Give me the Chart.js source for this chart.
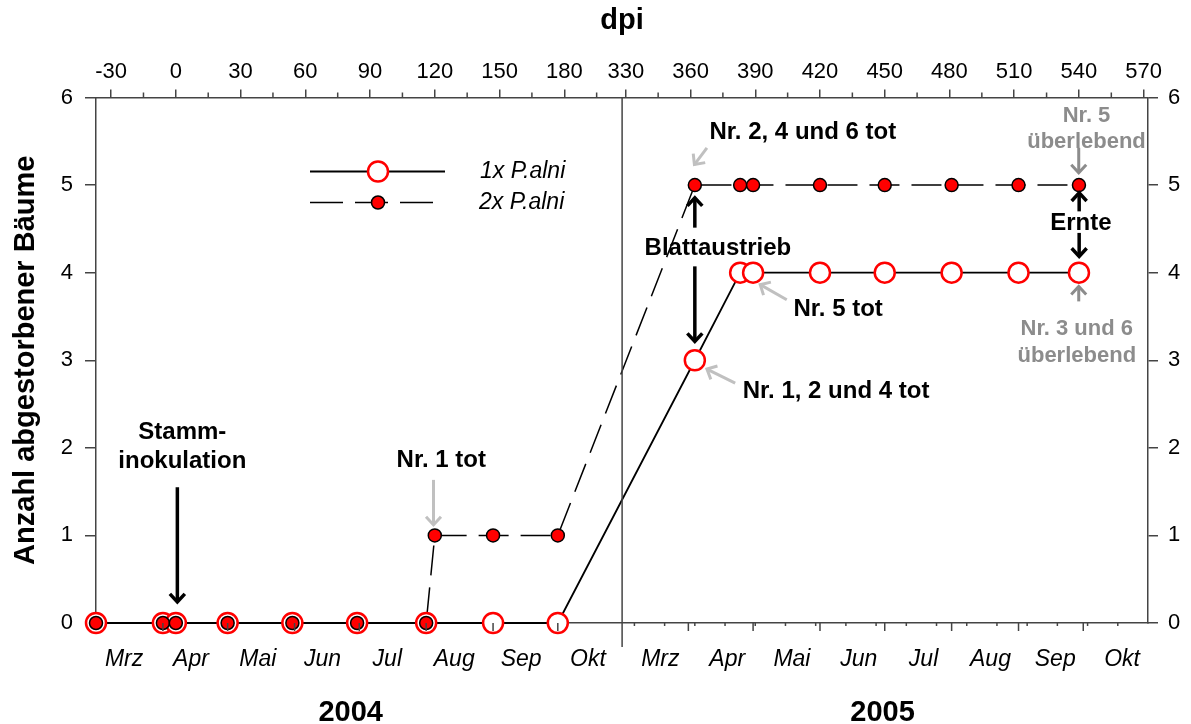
<!DOCTYPE html>
<html lang="de">
<head>
<meta charset="utf-8">
<title>Abgestorbene Bäume nach Inokulation</title>
<script src="https://cdn.jsdelivr.net/npm/chart.js"></script>
<style>
  html, body { margin: 0; padding: 0; background: #fff; }
  canvas { display: block; }
</style>
</head>
<body>
<canvas id="chart" width="1191" height="724"></canvas>
<script>
// Boniturtermine in Tagen nach Inokulation (dpi) und kumulativ abgestorbene Bäume
const dpi1x = [-37, -6, 0, 24, 54, 84, 116, 147, 177, 362, 383, 389, 420, 450, 481, 512, 540]
const dead1x = [0, 0, 0, 0, 0, 0, 0, 0, 0, 3, 4, 4, 4, 4, 4, 4, 4]

const dpi2x = [-37, -6, 0, 24, 54, 84, 116, 120, 147, 177, 362, 383, 389, 420, 450, 481, 512, 540]
const dead2x = [0, 0, 0, 0, 0, 0, 0, 1, 1, 1, 5, 5, 5, 5, 5, 5, 5, 5]

// obere Achse (dpi)
const dpiTicks = [-30, 0, 30, 60, 90, 120, 150, 180, 330, 360, 390, 420, 450, 480, 510, 540, 570]
const dpiMinorTicks = [-15, 15, 45, 75, 105, 135, 165, 195, 345, 375, 405, 435, 465, 495, 525, 555]

// untere Achse (Monate), Monatsanfänge und Beschriftung in dpi
const monthNames = ["Mrz", "Apr", "Mai", "Jun", "Jul", "Aug", "Sep", "Okt"]
const monthLabelDpi2004 = [-24, 7, 38, 68, 98, 129, 160, 191]
const monthLabelDpi2005 = [346, 377, 407, 438, 468, 499, 529, 560]
const monthStartDpi = [-6, 24, 55, 85, 116, 147, 177, 359, 389, 420, 450, 481, 512, 542]
const weekTickDpi2005 = [334, 348, 362, 376, 390, 404, 418, 432, 446, 460, 474, 488, 502, 516, 530, 544, 558]
const years = ["2004", "2005"]
const yearLabelDpi = [81, 449]

const yTicks = [0, 1, 2, 3, 4, 5, 6]

// Achsenbruch: Nov 2004 bis Feb 2005 ausgeblendet
const BREAK_AT = 206.8
const BREAK_SHIFT = 121.5
const axisX = (dpi) => (dpi > 260 ? dpi - BREAK_SHIFT : dpi)

const X_MIN = -37
const X_MAX = 450.5

const FONT = "'Liberation Sans', Arial, sans-serif"
const AXIS_COLOR = "#444"

const toPoints = (xs, ys) => xs.map((d, i) => ({ x: axisX(d), y: ys[i] }))

const annotationTexts = [
  { text: "Stamm-", at: [3, 2.18], align: "center", color: "#000", size: 24 },
  { text: "inokulation", at: [3, 1.85], align: "center", color: "#000", size: 24 },
  { text: "Nr. 1 tot", at: [123, 1.86], align: "center", color: "#000", size: 24 },
  { text: "Nr. 2, 4 und 6 tot", at: [368.8, 5.597], align: "left", color: "#000", size: 24 },
  { text: "Blattaustrieb", at: [372.7, 4.282], align: "center", color: "#000", size: 24 },
  { text: "Nr. 5 tot", at: [407.7, 3.577], align: "left", color: "#000", size: 24 },
  { text: "Nr. 1, 2 und 4 tot", at: [384.2, 2.643], align: "left", color: "#000", size: 24 },
  { text: "Ernte", at: [540.9, 4.56], align: "center", color: "#000", size: 24 },
  { text: "Nr. 5", at: [543.5, 5.786], align: "center", color: "#8c8c8c", size: 22 },
  { text: "überlebend", at: [543.5, 5.489], align: "center", color: "#8c8c8c", size: 22 },
  { text: "Nr. 3 und 6", at: [539, 3.357], align: "center", color: "#8c8c8c", size: 22 },
  { text: "überlebend", at: [539, 3.051], align: "center", color: "#8c8c8c", size: 22 },
]

const annotationArrows = [
  { from: [0.7, 1.55], to: [0.7, 0.24], color: "#000", width: 3.5 },
  { from: [362, 4.514], to: [362, 4.854], color: "#000", width: 3.5 },
  { from: [362, 4.072], to: [362, 3.215], color: "#000", width: 3.5 },
  { from: [540.1, 4.7], to: [540.1, 4.911], color: "#000", width: 3.5 },
  { from: [540.1, 4.454], to: [540.1, 4.186], color: "#000", width: 3.5 },
  { from: [119.4, 1.634], to: [119.4, 1.12], color: "#c0c0c0", width: 3 },
  { from: [367.6, 5.425], to: [361.8, 5.234], color: "#c0c0c0", width: 3 },
  { from: [404.6, 3.691], to: [392.3, 3.863], color: "#c0c0c0", width: 3 },
  { from: [380.7, 2.739], to: [367.6, 2.899], color: "#c0c0c0", width: 3 },
  { from: [539.9, 5.425], to: [539.9, 5.14], color: "#8c8c8c", width: 3 },
  { from: [539.9, 3.672], to: [539.9, 3.843], color: "#8c8c8c", width: 3 },
]

function drawArrow(ctx, x1, y1, x2, y2, color, width) {
  const ang = Math.atan2(y2 - y1, x2 - x1)
  const head = 11
  const spread = Math.PI / 4.2
  ctx.save()
  ctx.strokeStyle = color
  ctx.lineWidth = width
  ctx.lineCap = "butt"
  ctx.lineJoin = "miter"
  ctx.beginPath()
  ctx.moveTo(x1, y1)
  ctx.lineTo(x2, y2)
  ctx.stroke()
  ctx.beginPath()
  ctx.moveTo(x2 - head * Math.cos(ang - spread), y2 - head * Math.sin(ang - spread))
  ctx.lineTo(x2, y2)
  ctx.lineTo(x2 - head * Math.cos(ang + spread), y2 - head * Math.sin(ang + spread))
  ctx.stroke()
  ctx.restore()
}

// Achsenbruch, Zusatzstriche, Jahreszahlen, Legende und Beschriftungen
const decorations = {
  id: "decorations",
  afterDatasetsDraw(chart) {
    const { ctx, chartArea, scales } = chart
    const xs = scales.x
    const tick = (px, y0, len) => {
      ctx.beginPath()
      ctx.moveTo(px, y0)
      ctx.lineTo(px, y0 + len)
      ctx.stroke()
    }
    ctx.save()
    ctx.strokeStyle = AXIS_COLOR
    ctx.lineWidth = 1.5
    // Monatsstriche und Wochenpunkte an der unteren Achse
    monthStartDpi.forEach((d) => tick(xs.getPixelForValue(axisX(d)), chartArea.bottom, 8))
    weekTickDpi2005.forEach((d) => tick(xs.getPixelForValue(axisX(d)), chartArea.bottom, 3))
    // Zwischenstriche der dpi-Achse
    dpiMinorTicks.forEach((d) => tick(scales.xTop.getPixelForValue(axisX(d)), chartArea.top, -5))
    // Achsenbruch
    tick(xs.getPixelForValue(BREAK_AT), chartArea.top, chartArea.bottom - chartArea.top + 24)
    ctx.restore()
  },
  afterDraw(chart) {
    const { ctx, chartArea, scales } = chart
    const px = (d) => scales.x.getPixelForValue(axisX(d))
    const py = (v) => scales.y.getPixelForValue(v)

    ctx.save()
    // Jahreszahlen
    ctx.fillStyle = "#000"
    ctx.font = `bold 29px ${FONT}`
    ctx.textAlign = "center"
    ctx.textBaseline = "middle"
    years.forEach((y, i) => ctx.fillText(y, px(yearLabelDpi[i]), chartArea.bottom + 90))

    // Legende
    const lx = chartArea.left + 214
    const ly = chartArea.top + 74
    ctx.strokeStyle = "#000"
    ctx.lineWidth = 1.8
    ctx.beginPath()
    ctx.moveTo(lx, ly)
    ctx.lineTo(lx + 135, ly)
    ctx.stroke()
    ctx.beginPath()
    ctx.arc(lx + 68, ly, 10, 0, Math.PI * 2)
    ctx.fillStyle = "#fff"
    ctx.fill()
    ctx.strokeStyle = "#ff0000"
    ctx.lineWidth = 2.5
    ctx.stroke()

    ctx.strokeStyle = "#000"
    ctx.lineWidth = 1.5
    ctx.setLineDash([33, 12])
    ctx.beginPath()
    ctx.moveTo(lx, ly + 31)
    ctx.lineTo(lx + 135, ly + 31)
    ctx.stroke()
    ctx.setLineDash([])
    ctx.beginPath()
    ctx.arc(lx + 68, ly + 31, 6.5, 0, Math.PI * 2)
    ctx.fillStyle = "#ff0000"
    ctx.fill()
    ctx.strokeStyle = "#000"
    ctx.lineWidth = 1.5
    ctx.stroke()

    ctx.fillStyle = "#000"
    ctx.font = `italic 23px ${FONT}`
    ctx.textAlign = "left"
    ctx.fillText("1x P.alni", lx + 170, ly)
    ctx.fillText("2x P.alni", lx + 169, ly + 31)

    // Beschriftungen und Pfeile
    annotationArrows.forEach((a) =>
      drawArrow(ctx, px(a.from[0]), py(a.from[1]), px(a.to[0]), py(a.to[1]), a.color, a.width)
    )
    annotationTexts.forEach((t) => {
      ctx.font = `bold ${t.size}px ${FONT}`
      ctx.fillStyle = t.color
      ctx.textAlign = t.align
      ctx.fillText(t.text, px(t.at[0]), py(t.at[1]))
    })
    ctx.restore()
  },
}

const tickFont = { family: FONT, size: 22 }
const monthLabelDpi = monthLabelDpi2004.concat(monthLabelDpi2005)

new Chart(document.getElementById("chart"), {
  type: "line",
  data: {
    datasets: [
      {
        label: "2x P.alni (Linie)",
        data: toPoints(dpi2x, dead2x),
        borderColor: "#000",
        borderWidth: 1.5,
        borderDash: [30, 12],
        pointRadius: 0,
        tension: 0,
        order: 2,
        clip: false,
      },
      {
        label: "1x P.alni",
        data: toPoints(dpi1x, dead1x),
        borderColor: "#000",
        borderWidth: 1.8,
        pointRadius: 10,
        pointBorderWidth: 2.5,
        pointBorderColor: "#ff0000",
        pointBackgroundColor: "#fff",
        tension: 0,
        order: 1,
        clip: false,
      },
      {
        label: "2x P.alni",
        data: toPoints(dpi2x, dead2x),
        showLine: false,
        pointRadius: 6.5,
        pointBorderWidth: 1.5,
        pointBorderColor: "#000",
        pointBackgroundColor: "#ff0000",
        order: 0,
        clip: false,
      },
    ],
  },
  options: {
    responsive: false,
    animation: false,
    events: [],
    devicePixelRatio: 1,
    layout: { padding: 0 },
    plugins: {
      legend: { display: false },
      tooltip: { enabled: false },
    },
    scales: {
      x: {
        type: "linear",
        position: "bottom",
        min: X_MIN,
        max: X_MAX,
        afterBuildTicks: (s) => {
          s.ticks = monthLabelDpi.map((d) => ({ value: axisX(d) }))
        },
        ticks: {
          autoSkip: false,
          maxRotation: 0,
          color: "#000",
          font: { family: FONT, size: 23, style: "italic" },
          padding: 23,
          callback: (v, i) => monthNames[i % monthNames.length],
        },
        grid: { display: false, drawTicks: false },
        border: { display: true, color: AXIS_COLOR, width: 1.5 },
        afterFit: (s) => { s.height = 101 },
      },
      xTop: {
        type: "linear",
        position: "top",
        min: X_MIN,
        max: X_MAX,
        afterBuildTicks: (s) => {
          s.ticks = dpiTicks.map((d) => ({ value: axisX(d) }))
        },
        ticks: {
          autoSkip: false,
          maxRotation: 0,
          color: "#000",
          font: tickFont,
          padding: 4,
          callback: (v, i) => String(dpiTicks[i]),
        },
        grid: { drawOnChartArea: false, tickLength: 8, color: AXIS_COLOR, lineWidth: 1.5 },
        border: { display: true, color: AXIS_COLOR, width: 1.5 },
        title: {
          display: true,
          text: "dpi",
          color: "#000",
          font: { family: FONT, size: 29, weight: "bold" },
          padding: { top: 4, bottom: 0 },
        },
        afterFit: (s) => { s.height = 97.5 },
      },
      y: {
        position: "left",
        min: 0,
        max: 6,
        afterBuildTicks: (s) => { s.ticks = yTicks.map((v) => ({ value: v })) },
        ticks: { color: "#000", font: tickFont, padding: 12 },
        grid: { drawOnChartArea: false, tickLength: 11, color: AXIS_COLOR, lineWidth: 1.5 },
        border: { display: true, color: AXIS_COLOR, width: 1.5 },
        title: {
          display: true,
          text: "Anzahl abgestorbener Bäume",
          color: "#000",
          font: { family: FONT, size: 29, weight: "bold" },
          padding: { top: 9, bottom: 0 },
        },
        afterFit: (s) => { s.width = 96 },
      },
      y2: {
        position: "right",
        min: 0,
        max: 6,
        afterBuildTicks: (s) => { s.ticks = yTicks.map((v) => ({ value: v })) },
        ticks: { color: "#000", font: tickFont, padding: 10 },
        grid: { drawOnChartArea: false, tickLength: 10, color: AXIS_COLOR, lineWidth: 1.5 },
        border: { display: true, color: AXIS_COLOR, width: 1.5 },
        afterFit: (s) => { s.width = 43 },
      },
    },
  },
  plugins: [decorations],
})
</script>
</body>
</html>
